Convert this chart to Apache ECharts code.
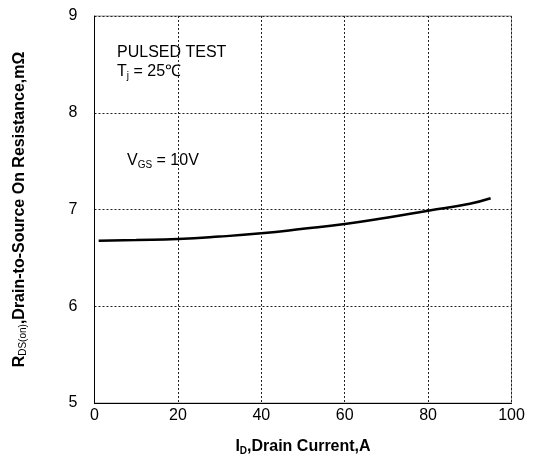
<!DOCTYPE html>
<html><head><meta charset="utf-8">
<script src="https://cdn.jsdelivr.net/npm/echarts@6/dist/echarts.min.js"></script>
<style>html,body{margin:0;padding:0;background:#fff}#c{width:534px;height:469px}</style>
</head><body><div id="c"></div>
<script>
var currentA = [1, 10, 20, 30, 40, 50, 60, 70, 80, 90, 95];
var rdsOn = [6.678, 6.685, 6.695, 6.72, 6.754, 6.80, 6.85, 6.915, 6.988, 7.06, 7.116];
var xTicks = [0, 20, 40, 60, 80, 100];
var yTicks = [5, 6, 7, 8, 9];

var chart = echarts.init(document.getElementById('c'));
var F = 'Liberation Sans, Arial, sans-serif';
chart.setOption({
  animation: false,
  grid: {left: 94.5, right: 22.5, top: 16, bottom: 66, show: true, borderColor: '#999', borderWidth: 1},
  xAxis: {
    type: 'value', min: xTicks[0], max: xTicks[xTicks.length-1], interval: 20,
    axisLine: {lineStyle: {color: '#000', width: 1}},
    axisTick: {show: false},
    axisLabel: {color: '#000', fontSize: 16, fontFamily: F, margin: 5},
    splitLine: {show: true, lineStyle: {color: '#222', type: [2, 2], width: 1}},
    name: 'I{s|D},Drain Current,A', nameLocation: 'middle', nameGap: 35,
    nameTextStyle: {color: '#000', fontSize: 16, fontWeight: 'bold', fontFamily: F,
      rich: {s: {fontSize: 10, fontWeight: 'bold', fontFamily: F, padding: [8,0,0,0]}}}
  },
  yAxis: {
    type: 'value', min: yTicks[0], max: yTicks[yTicks.length-1], interval: 1,
    axisLine: {show: true, lineStyle: {color: '#000', width: 1}},
    axisTick: {show: false},
    axisLabel: {color: '#000', fontSize: 16, fontFamily: F, margin: 17},
    splitLine: {show: true, lineStyle: {color: '#222', type: [2, 2], width: 1}},
    name: 'R{s|DS(on)},Drain-to-Source On Resistance,mΩ', nameLocation: 'middle', nameGap: 66,
    nameTextStyle: {color: '#000', fontSize: 16, fontWeight: 'bold', fontFamily: F,
      rich: {s: {fontSize: 10, fontWeight: 'normal', fontFamily: F, padding: [8,0,0,0]}}}
  },
  series: [{
    type: 'line', smooth: true, symbol: 'none',
    data: currentA.map(function(x, i){ return [x, rdsOn[i]]; }),
    lineStyle: {color: '#000', width: 2.5}
  }],
  graphic: [
    {type: 'text', left: 117, top: 45, style: {text: 'PULSED TEST', font: '16px ' + F, fill: '#000'}},
    {type: 'text', left: 117, top: 64, style: {text: 'T{s|j} = 25℃', font: '16px ' + F, fill: '#000',
      rich: {s: {fontSize: 10, fontFamily: F, padding: [8,0,0,0]}}}},
    {type: 'text', left: 127, top: 153, style: {text: 'V{s|GS} = 10V', font: '16px ' + F, fill: '#000',
      rich: {s: {fontSize: 10, fontFamily: F, padding: [8,0,0,0]}}}}
  ]
});
</script></body></html>
